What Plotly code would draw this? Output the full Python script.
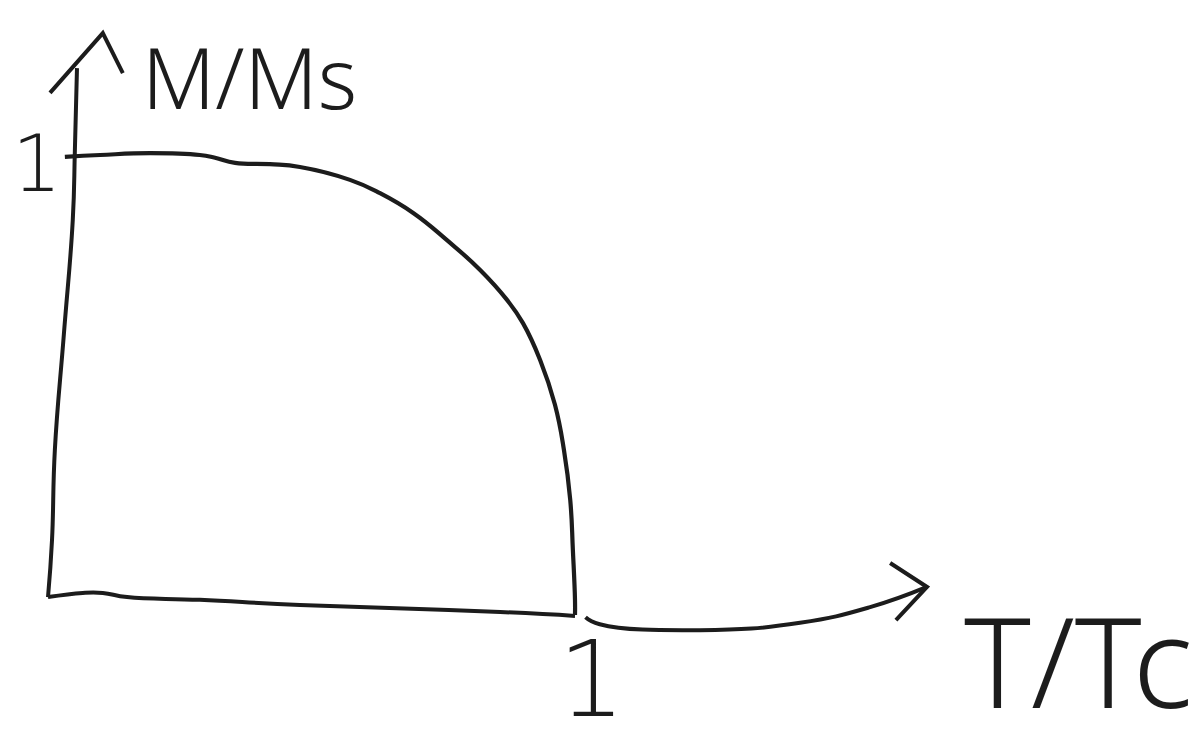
import plotly.graph_objects as go

# Reduced magnetisation M/Ms versus reduced temperature T/Tc (hand-sketched curve)
t_ratio = [0.032, 0.099, 0.194, 0.288, 0.317, 0.355, 0.421, 0.478, 0.573, 0.630, 0.693,
           0.757, 0.820, 0.871, 0.901, 0.934, 0.962, 0.979, 0.991, 0.996, 1.000, 1.000]
m_ratio = [0.996, 1.000, 1.004, 1.000, 0.994, 0.983, 0.980, 0.974, 0.946, 0.917, 0.874,
           0.815, 0.750, 0.685, 0.635, 0.554, 0.457, 0.359, 0.250, 0.141, 0.033, 0.000]

# Hand-drawn vertical axis (M/Ms) and its arrow head
y_axis_x = [0.000, 0.0076, 0.013, 0.030, 0.047, 0.051, 0.055]
y_axis_y = [0.039, 0.163, 0.359, 0.609, 0.859, 1.011, 1.189]
y_head_x = [0.0038, 0.104, 0.142]
y_head_y = [1.135, 1.265, 1.178]

# Hand-drawn horizontal axis (T/Tc), drawn in two strokes, and its arrow head
x_axis_a_x = [0.000, 0.066, 0.104, 0.150, 0.288, 0.478, 0.858, 1.000]
x_axis_a_y = [0.039, 0.048, 0.048, 0.039, 0.033, 0.022, 0.0065, -0.002]
x_axis_b_x = [1.020, 1.047, 1.237, 1.427, 1.560, 1.668]
x_axis_b_y = [-0.005, -0.020, -0.033, -0.017, 0.017, 0.061]
x_head_x = [1.598, 1.668, 1.609]
x_head_y = [0.113, 0.061, -0.011]

# Axis captions and the unit tick labels
y_title, x_title = "M/Ms", "T/Tc"
tick_label = "1"

INK = "#1c1c1c"
HAND = "Noto Sans"
DIGIT = "DejaVu Sans"

fig = go.Figure()


def stroke(xs, ys, width=4.0, smooth=1.3):
    fig.add_trace(go.Scatter(x=xs, y=ys, mode="lines",
                             line=dict(color=INK, width=width, shape="spline", smoothing=smooth),
                             hoverinfo="skip", showlegend=False))


def chevron(xs, ys):
    fig.add_trace(go.Scatter(x=xs, y=ys, mode="lines",
                             line=dict(color=INK, width=4.0),
                             hoverinfo="skip", showlegend=False))


stroke(y_axis_x, y_axis_y)
chevron(y_head_x, y_head_y)
stroke(x_axis_a_x, x_axis_a_y)
stroke(x_axis_b_x, x_axis_b_y)
chevron(x_head_x, x_head_y)
stroke(t_ratio, m_ratio, width=4.2)

fig.add_annotation(x=0.383, y=1.17, xref="x", yref="y", text=y_title, showarrow=False,
                   font=dict(family=HAND, size=84, color=INK, weight=300))
fig.add_annotation(x=1.955, y=-0.095, xref="x", yref="y", text=x_title, showarrow=False,
                   font=dict(family=HAND, size=126, color=INK, weight=300))
fig.add_annotation(x=-0.021, y=0.98, xref="x", yref="y", text=tick_label, showarrow=False,
                   font=dict(family=DIGIT, size=78, color=INK, weight=200))
fig.add_annotation(x=1.032, y=-0.14, xref="x", yref="y", text=tick_label, showarrow=False,
                   font=dict(family=DIGIT, size=106, color=INK, weight=200))

fig.update_layout(
    width=1203, height=749,
    margin=dict(l=0, r=0, t=0, b=0),
    paper_bgcolor="white", plot_bgcolor="white",
    xaxis=dict(range=[-0.0911, 2.1917], visible=False, fixedrange=True),
    yaxis=dict(range=[-0.2913, 1.3370], visible=False, fixedrange=True),
)

fig.write_html("out.html")
